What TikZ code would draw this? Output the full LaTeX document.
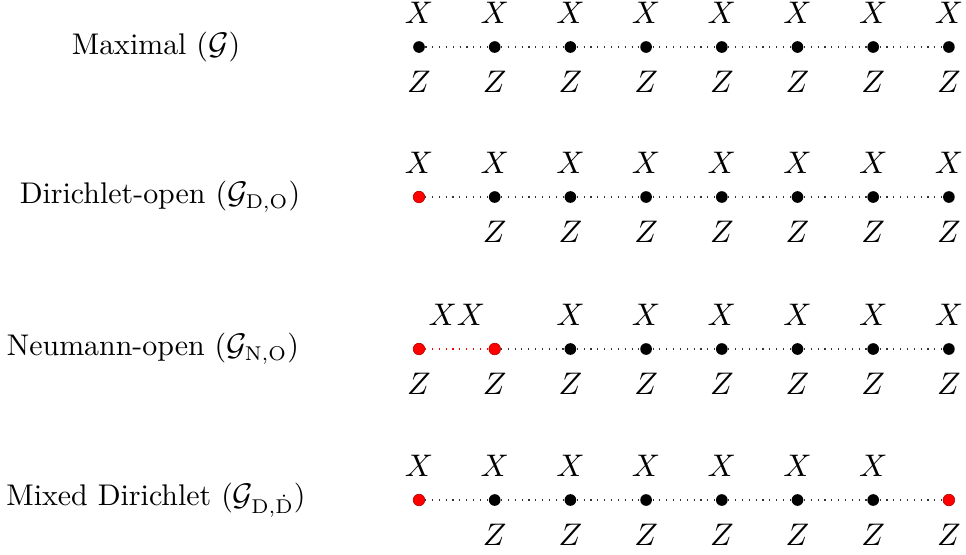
\documentclass[tikz,border=0pt]{standalone}
\usetikzlibrary{calc}
\begin{document}
\begin{tikzpicture}[x=0.351pt,y=-0.351pt,
  site/.style={circle,fill=black,inner sep=0pt,minimum size=4.1pt},
  rsite/.style={circle,fill=red,draw=red!70!black,line width=0.2pt,inner sep=0pt,minimum size=4.1pt},
  link/.style={dotted,line width=0.4pt,black!80},
  rlink/.style={dotted,line width=0.4pt,red},
  lab/.style={font=\fontsize{10.5}{12}\selectfont},
  rowlab/.style={font=\fontsize{10.5}{12}\selectfont,anchor=center}]
\useasboundingbox (0,0) rectangle (966,554);
% row labels
\node[rowlab] (l1) at (156,47) {Maximal ($\mathcal{G}$)};
\node[rowlab] (l2) at (160,197) {Dirichlet-open ($\mathcal{G}_{\mathrm{D,O}}$)};
\node[rowlab] (l3) at (153,349) {Neumann-open ($\mathcal{G}_{\mathrm{N,O}}$)};
\node[rowlab] (l4) at (156,500) {Mixed Dirichlet ($\mathcal{G}_{\mathrm{D},\dot{\mathrm{D}}}$)};
% sites
\foreach \r/\y in {1/47,2/197,3/349,4/500}{
  \foreach \i in {1,...,8}{
    \coordinate (c\r-\i) at ({419+75.7*(\i-1)},\y);
  }
}
% row 1
\foreach \i in {1,...,8}{\node[site] (n1-\i) at (c1-\i) {};}
% row 2
\node[rsite] (n2-1) at (c2-1) {};
\foreach \i in {2,...,8}{\node[site] (n2-\i) at (c2-\i) {};}
% row 3
\node[rsite] (n3-1) at (c3-1) {};
\node[rsite] (n3-2) at (c3-2) {};
\foreach \i in {3,...,8}{\node[site] (n3-\i) at (c3-\i) {};}
% row 4
\node[rsite] (n4-1) at (c4-1) {};
\foreach \i in {2,...,7}{\node[site] (n4-\i) at (c4-\i) {};}
\node[rsite] (n4-8) at (c4-8) {};
% links
\foreach \r in {1,2,4}{
  \foreach \i [evaluate=\i as \j using int(\i+1)] in {1,...,7}{
    \draw[link] (n\r-\i) -- (n\r-\j);
  }
}
\draw[rlink] (n3-1) -- (n3-2);
\foreach \i [evaluate=\i as \j using int(\i+1)] in {2,...,7}{
  \draw[link] (n3-\i) -- (n3-\j);
}
% X and Z labels
\foreach \i in {1,...,8}{
  \node[lab] (x1-\i) at ([yshift=34*0.351pt]n1-\i) {$X$};
  \node[lab] (z1-\i) at ([yshift=-35*0.351pt]n1-\i) {$Z$};
  \node[lab] (x2-\i) at ([yshift=34*0.351pt]n2-\i) {$X$};
  \node[lab] (z3-\i) at ([yshift=-35*0.351pt]n3-\i) {$Z$};
}
\foreach \i in {2,...,8}{
  \node[lab] (z2-\i) at ([yshift=-35*0.351pt]n2-\i) {$Z$};
  \node[lab] (z4-\i) at ([yshift=-35*0.351pt]n4-\i) {$Z$};
}
\foreach \i in {1,...,7}{
  \node[lab] (x4-\i) at ([yshift=34*0.351pt]n4-\i) {$X$};
}
\foreach \i in {3,...,8}{
  \node[lab] (x3-\i) at ([yshift=34*0.351pt]n3-\i) {$X$};
}
\coordinate (m3) at ($(n3-1)!0.5!(n3-2)$);
\node[lab] (x3-12) at ([yshift=34*0.351pt]m3) {$XX$};
\end{tikzpicture}
\end{document}
